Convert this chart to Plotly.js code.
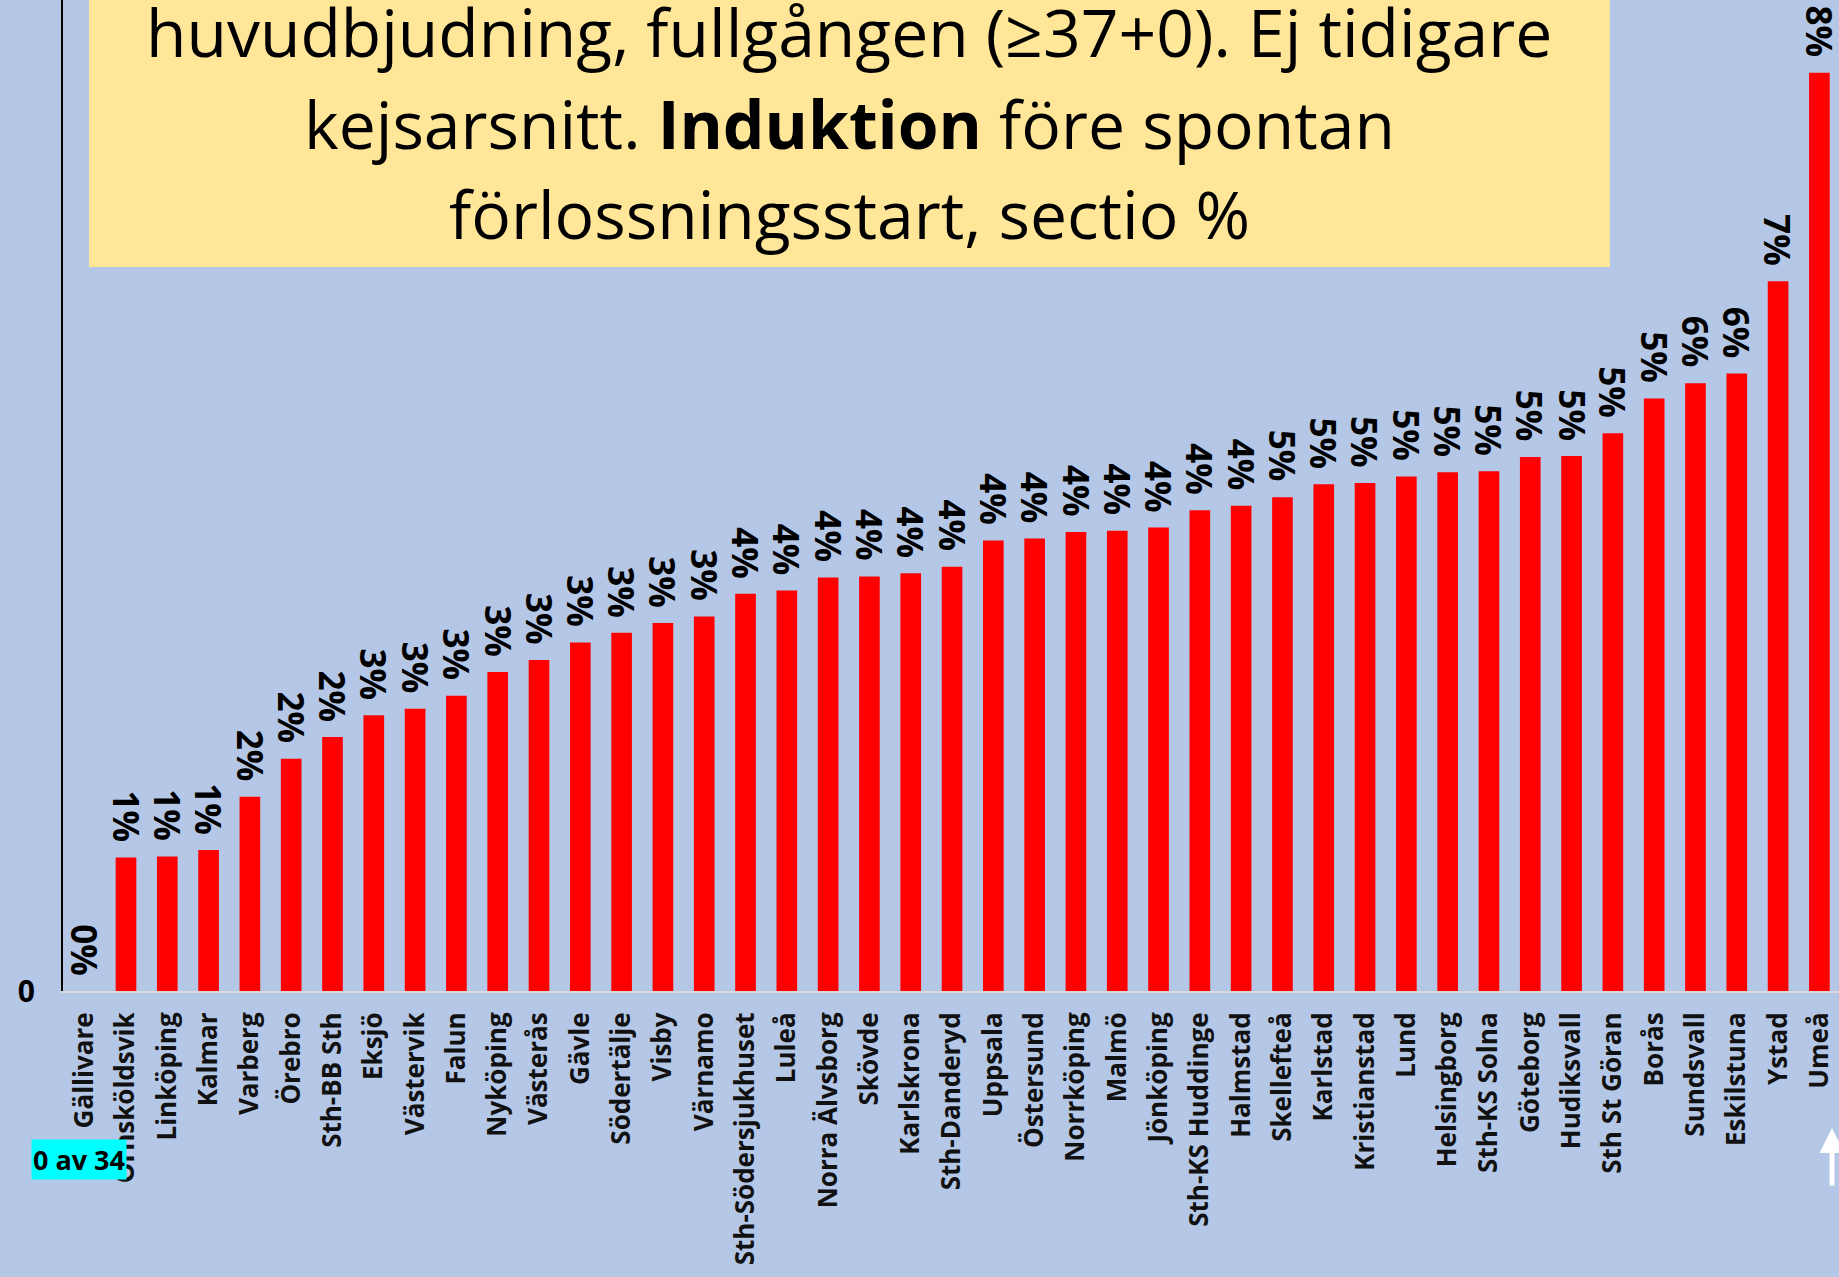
<!DOCTYPE html>
<html>
<head>
<meta charset="utf-8">
<script src="https://cdn.plot.ly/plotly-3.0.1.min.js"></script>
<style>
  html, body { margin: 0; padding: 0; background: #B4C7E7; }
  #chart { width: 1839px; height: 1277px; }
</style>
</head>
<body>
<div id="chart"></div>
<script>
const categories = ['Gällivare','Örnsköldsvik','Linköping','Kalmar','Varberg','Örebro','Sth-BB Sth','Eksjö','Västervik','Falun','Nyköping','Västerås','Gävle','Södertälje','Visby','Värnamo','Sth-Södersjukhuset','Luleå','Norra Älvsborg','Skövde','Karlskrona','Sth-Danderyd','Uppsala','Östersund','Norrköping','Malmö','Jönköping','Sth-KS Huddinge','Halmstad','Skellefteå','Karlstad','Kristianstad','Lund','Helsingborg','Sth-KS Solna','Göteborg','Hudiksvall','Sth St Göran','Borås','Sundsvall','Eskilstuna','Ystad','Umeå'];
const values = [0, 1.23, 1.24, 1.30, 1.79, 2.14, 2.34, 2.54, 2.60, 2.72, 2.94, 3.05, 3.21, 3.30, 3.39, 3.45, 3.66, 3.69, 3.81, 3.82, 3.85, 3.91, 4.15, 4.17, 4.23, 4.24, 4.27, 4.43, 4.47, 4.55, 4.67, 4.68, 4.74, 4.78, 4.79, 4.92, 4.93, 5.14, 5.46, 5.60, 5.69, 6.54, 8.46];
const pctLabels = ['0%','1%','1%','1%','2%','2%','2%','3%','3%','3%','3%','3%','3%','3%','3%','3%','4%','4%','4%','4%','4%','4%','4%','4%','4%','4%','4%','4%','4%','5%','5%','5%','5%','5%','5%','5%','5%','5%','5%','6%','6%','7%','8%'];
const yTickLabels = ['0'];
const titleLines = ['huvudbjudning, fullgången (≥37+0). Ej tidigare', 'kejsarsnitt. <b>Induktion</b> före spontan', 'förlossningsstart, sectio %'];
const countLabel = '0 av 34';

const W = 1839, H = 1277;
const mL = 63, mB = 286;
const plotW = W - mL, plotH = H - mB;
const px = v => (v - mL) / plotW;           // pixel x -> paper
const py = v => (plotH - v) / plotH;        // pixel y -> paper

const trace = {
  type: 'bar',
  x: categories,
  y: values,
  marker: { color: '#FF0000', line: { width: 0 } },
  hoverinfo: 'x+y'
};

const annotations = [];
categories.forEach((c, i) => {
  annotations.push({
    x: c, y: values[i], xref: 'x', yref: 'y',
    text: '<b>' + pctLabels[i] + '</b>', showarrow: false, textangle: 90,
    xanchor: 'center', yanchor: 'bottom', yshift: 13,
    font: { family: 'Open Sans', size: 35, color: '#000000' }
  });
});

const titleY = [31, 123, 213];
titleLines.forEach((t, i) => {
  annotations.push({
    x: px(849), y: py(titleY[i]), xref: 'paper', yref: 'paper',
    text: t, showarrow: false, xanchor: 'center', yanchor: 'middle',
    font: { family: 'Open Sans', size: 66, color: '#000000' }
  });
});

annotations.push({
  x: px(79), y: py(1159.5), xref: 'paper', yref: 'paper',
  text: '<b>' + countLabel + '</b>', showarrow: false,
  xanchor: 'center', yanchor: 'middle', width: 94, height: 39,
  bgcolor: '#00FFFF', borderpad: 0,
  font: { family: 'Open Sans', size: 27, color: '#000000' }
});

annotations.push({
  x: px(1832), y: py(1128), xref: 'paper', yref: 'paper',
  text: '', showarrow: true, ax: 0, ay: 59, axref: 'pixel', ayref: 'pixel',
  arrowcolor: '#FFFFFF', arrowwidth: 5, arrowhead: 2, arrowsize: 1
});

const layout = {
  width: W, height: H,
  margin: { l: mL, r: 0, t: 0, b: mB, pad: 0 },
  paper_bgcolor: '#B4C7E7',
  plot_bgcolor: '#B4C7E7',
  showlegend: false,
  bargap: 0.5,
  xaxis: {
    type: 'category',
    range: [-0.525, 42.475],
    tickvals: categories,
    ticktext: categories.map(c => '<b>' + c + '</b>'),
    tickangle: -90,
    ticks: '',
    ticklabelstandoff: 9,
    tickfont: { family: 'Open Sans', size: 26, color: '#111111' },
    showgrid: false, zeroline: false,
    showline: true, linecolor: '#D9D9D9', linewidth: 2
  },
  yaxis: {
    range: [0, 9.131],
    tickvals: [0], ticktext: yTickLabels.map(t => '<b>' + t + '</b>'),
    ticks: '',
    ticklabelstandoff: 20,
    tickfont: { family: 'Open Sans', size: 30, color: '#000000' },
    showgrid: false, zeroline: false,
    showline: true, linecolor: '#000000', linewidth: 2
  },
  shapes: [{
    type: 'rect', xref: 'paper', yref: 'paper',
    x0: px(89), x1: px(1610), y0: py(267), y1: 1.02,
    fillcolor: '#FFE699', line: { width: 0 }, layer: 'below'
  }],
  annotations: annotations
};

Plotly.newPlot('chart', [trace], layout, { displayModeBar: false });
</script>
</body>
</html>
